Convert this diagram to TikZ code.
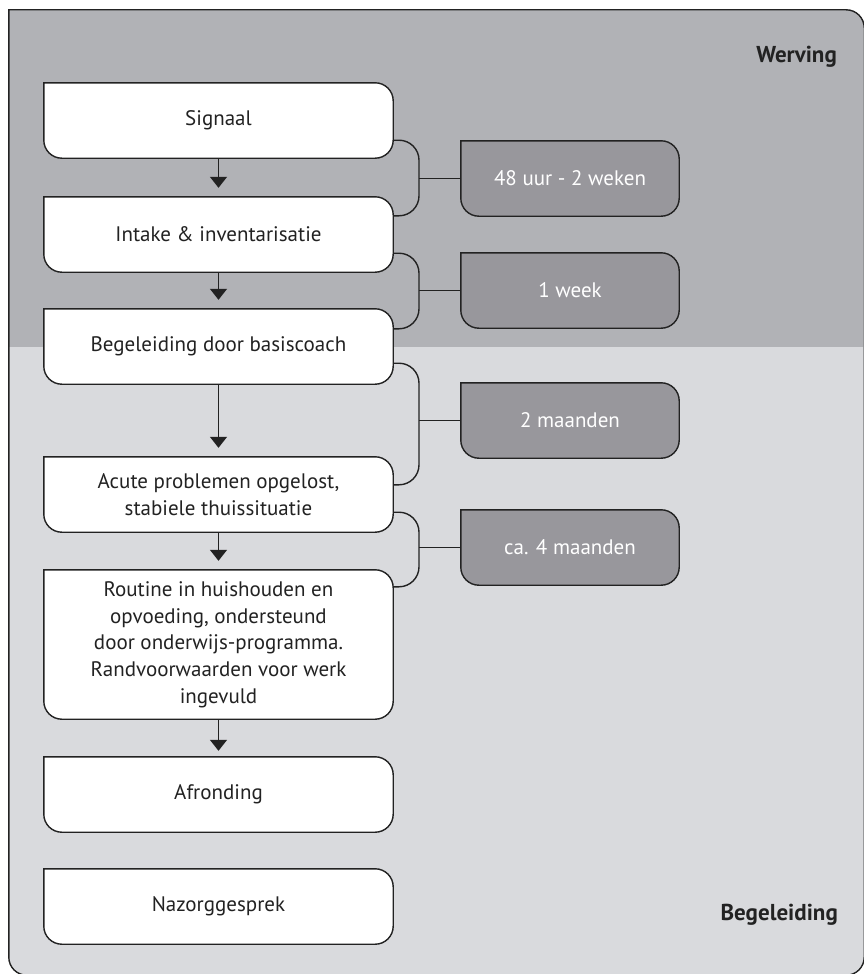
\documentclass[tikz,border=0pt]{standalone}
\usepackage{fontspec}
\setmainfont{PT Sans}
\usetikzlibrary{arrows.meta,backgrounds}
\definecolor{darkbg}{HTML}{B1B2B6}
\definecolor{lightbg}{HTML}{D9DADD}
\definecolor{durfill}{HTML}{98979C}
\definecolor{inkc}{HTML}{222222}
\tikzset{
  stepbox/.style={minimum width=349pt,minimum height=75pt,inner sep=0pt,align=center,
    text=inkc,font=\fontsize{21}{26.7}\selectfont},
  durbox/.style={minimum width=218pt,minimum height=75pt,inner sep=0pt,align=center,
    text=white,font=\fontsize{21}{26.7}\selectfont},
  zonelabel/.style={anchor=east,inner sep=0pt,text=inkc,font=\fontsize{23}{26}\selectfont\bfseries},
  outl/.style={draw=inkc,line width=1.4pt},
  arr/.style={draw=inkc,line width=1.4pt,-{Triangle[width=17pt,length=11pt]}},
  brk/.style={draw=inkc,line width=1.4pt,rounded corners=20pt},
  conn/.style={draw=inkc,line width=1.4pt},
}
\newcommand\shapeOf[1]{(#1.west) |- (#1.north) [rounded corners=18pt] -| (#1.east) |- (#1.south) -| (#1.west) [sharp corners] -- cycle}
\begin{document}
\begin{tikzpicture}[x=1pt,y=-1pt]
\useasboundingbox (0,0) rectangle (863,974);
% frame
\node[minimum width=855pt,minimum height=965pt,inner sep=0pt] (frame) at (436.5,492.5) {};
% steps
\node[stepbox] (s1) at (218.5,120.5) {Signaal};
\node[stepbox] (s2) at (218.5,234.5) {Intake \& inventarisatie};
\node[stepbox] (s3) at (218.5,346.5) {Begeleiding door basiscoach};
\node[stepbox] (s4) at (218.5,494.5) {Acute problemen opgelost,\\stabiele thuissituatie};
\node[stepbox,minimum height=149pt] (s5) at (218.5,644.5) {Routine in huishouden en\\opvoeding, ondersteund\\door onderwijs-programma.\\Randvoorwaarden voor werk\\ingevuld};
\node[stepbox] (s6) at (218.5,794.5) {Afronding};
\node[stepbox] (s7) at (218.5,906.5) {Nazorggesprek};
% durations
\node[durbox] (d1) at (570,178.5) {48 uur - 2 weken};
\node[durbox] (d2) at (570,290.5) {1 week};
\node[durbox] (d3) at (570,420.5) {2 maanden};
\node[durbox] (d4) at (570,547.5) {ca. 4 maanden};
% zone labels
\node[zonelabel] (lw) at (837,57) {Werving};
\node[zonelabel] (lb) at (838,915) {Begeleiding};
\begin{scope}[on background layer]
  \fill[lightbg] \shapeOf{frame};
  \begin{scope}
    \clip (0,0) rectangle (863,346);
    \fill[darkbg] \shapeOf{frame};
  \end{scope}
  \draw[outl] \shapeOf{frame};
  \foreach \n in {s1,s2,s3,s4,s5,s6,s7}{\draw[outl,fill=white] \shapeOf{\n};}
  \foreach \n in {d1,d2,d3,d4}{\draw[outl,fill=durfill] \shapeOf{\n};}
\end{scope}
% arrows
\draw[arr] (s1.south) -- ([yshift=9pt]s2.north);
\draw[arr] (s2.south) -- ([yshift=9pt]s3.north);
\draw[arr] (s3.south) -- ([yshift=9pt]s4.north);
\draw[arr] (s4.south) -- ([yshift=9pt]s5.north);
\draw[arr] (s5.south) -- ([yshift=6pt]s6.north);
% brackets
\coordinate (bx) at (419,0);
\draw[brk] ([yshift=18pt]s1.south east) -- ([yshift=18pt]s1.south east -| bx) -- ([yshift=-19pt]s2.north east -| bx) -- ([yshift=-19pt]s2.north east);
\draw[brk] ([yshift=19pt]s2.south east) -- ([yshift=19pt]s2.south east -| bx) -- ([yshift=-20pt]s3.north east -| bx) -- ([yshift=-20pt]s3.north east);
\draw[brk] ([yshift=21pt]s3.south east) -- ([yshift=21pt]s3.south east -| bx) -- ([yshift=-28pt]s4.north east -| bx) -- ([yshift=-28pt]s4.north east);
\draw[brk] ([yshift=20pt]s4.south east) -- ([yshift=20pt]s4.south east -| bx) -- ([yshift=-17pt]s5.north east -| bx) -- ([yshift=-17pt]s5.north east);
\draw[conn] (d1.west) -- (d1.west -| bx);
\draw[conn] (d2.west) -- (d2.west -| bx);
\draw[conn] (d3.west) -- (d3.west -| bx);
\draw[conn] (d4.west) -- (d4.west -| bx);
\end{tikzpicture}
\end{document}
